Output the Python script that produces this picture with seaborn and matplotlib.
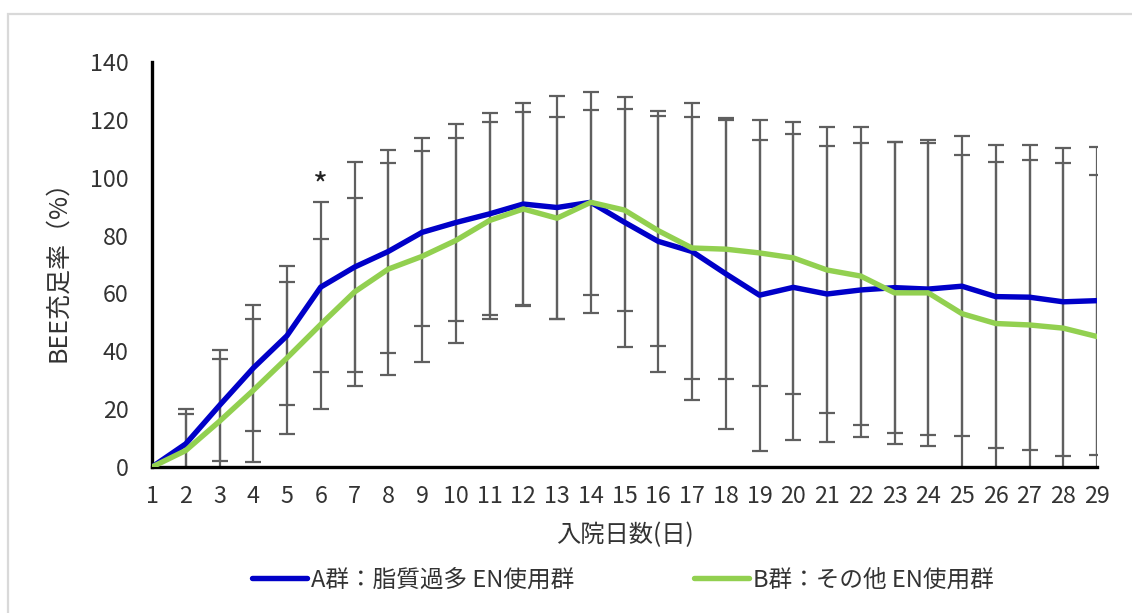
import matplotlib
matplotlib.use("Agg")
import matplotlib.pyplot as plt
from matplotlib.patches import Rectangle
import numpy as np
import pandas as pd
import seaborn as sns

# 入院日数
days = list(range(1, 30))

# A群：脂質過多 EN使用群 (平均, SD)
group_a_mean = [0.0, 8.0, 21.3, 34.2, 45.4, 62.2, 69.1, 74.5, 81.1, 84.5,
                87.5, 90.9, 89.7, 91.5, 84.6, 78.0, 74.5, 66.8, 59.4, 62.1,
                59.8, 61.2, 62.0, 61.5, 62.5, 58.9, 58.7, 57.1, 57.5]
group_a_sd = [0.0, 12.2, 19.3, 21.7, 24.1, 29.5, 36.2, 35.0, 32.5, 34.0,
              34.9, 35.0, 38.7, 38.3, 43.2, 45.0, 51.5, 53.7, 53.7, 52.9,
              51.0, 50.9, 50.3, 50.5, 51.9, 52.4, 52.7, 53.3, 53.2]

# B群：その他 EN使用群 (平均, SD)
group_b_mean = [0.0, 5.7, 15.8, 26.5, 37.7, 49.3, 60.5, 68.4, 72.8, 78.3,
                85.2, 89.2, 86.0, 91.5, 88.8, 81.7, 75.7, 75.3, 74.0, 72.3,
                68.1, 66.0, 60.2, 60.2, 53.0, 49.6, 49.1, 48.0, 45.1]
group_b_sd = [0.0, 12.5, 21.4, 24.6, 26.4, 29.4, 32.6, 36.7, 36.4, 35.4,
              34.0, 33.6, 34.9, 32.0, 35.0, 39.7, 45.4, 44.8, 46.0, 47.1,
              49.3, 51.4, 52.3, 52.9, 54.9, 56.0, 57.0, 57.0, 55.9]

label_a = "A群：脂質過多 EN使用群"
label_b = "B群：その他 EN使用群"
sig_day = 6
sig_y = 97

sns.set_theme(style="white")
plt.rcParams["font.family"] = ["Noto Sans CJK JP", "DejaVu Sans"]

df = pd.DataFrame({
    "day": days * 2,
    "value": group_a_mean + group_b_mean,
    "group": [label_a] * len(days) + [label_b] * len(days),
})

fig = plt.figure(figsize=(11.32, 6.13), dpi=100)
ax = fig.add_axes([152 / 1132, 1 - 467 / 613, 945 / 1132, 405 / 613])

# チャート外枠
fig.patches.append(Rectangle((8 / 1132, -0.1), 1.2, (613 - 14) / 613 + 0.1,
                             transform=fig.transFigure, fill=False,
                             edgecolor="#d9d9d9", linewidth=1.6, zorder=0))

err_color = "#5f5f5f"
for m, s in [(group_a_mean, group_a_sd), (group_b_mean, group_b_sd)]:
    ax.errorbar(days, m, yerr=s, fmt="none", ecolor=err_color,
                elinewidth=1.6, capsize=5.6, capthick=1.6, zorder=2)

palette = {label_a: "#0000c8", label_b: "#92d050"}
sns.lineplot(data=df, x="day", y="value", hue="group", palette=palette,
             linewidth=3.9, ax=ax, legend=False, zorder=3)

ax.text(sig_day, sig_y, "*", ha="center", va="center", fontsize=23,
        color="#222222")

text_color = "#333333"
ax.set_xlim(1, 29)
ax.set_ylim(0, 140)
ax.set_xticks(days)
ax.set_yticks(range(0, 141, 20))
ax.tick_params(axis="both", direction="in", length=6, width=2,
               color="black", labelsize=16.8, labelcolor=text_color)
ax.tick_params(axis="y", pad=17)
ax.tick_params(axis="x", pad=13)
for side in ["top", "right"]:
    ax.spines[side].set_visible(False)
for side in ["left", "bottom"]:
    ax.spines[side].set_color("black")
    ax.spines[side].set_linewidth(2.4)

ax.set_xlabel("入院日数(日)", fontsize=17.5, color=text_color, labelpad=10)
ax.set_ylabel("BEE充足率（%）", fontsize=18, color=text_color, labelpad=13)

handles = [plt.Line2D([], [], color=palette[label_a], linewidth=3.9),
           plt.Line2D([], [], color=palette[label_b], linewidth=3.9)]
fig.legend(handles, [label_a, label_b], loc="center",
           bbox_to_anchor=(623 / 1132, 1 - 580 / 613), ncol=2, frameon=False,
           fontsize=17, handlelength=2.33, handletextpad=0.17,
           columnspacing=5.1, labelcolor=text_color)

fig.savefig("out.png", dpi=100)
